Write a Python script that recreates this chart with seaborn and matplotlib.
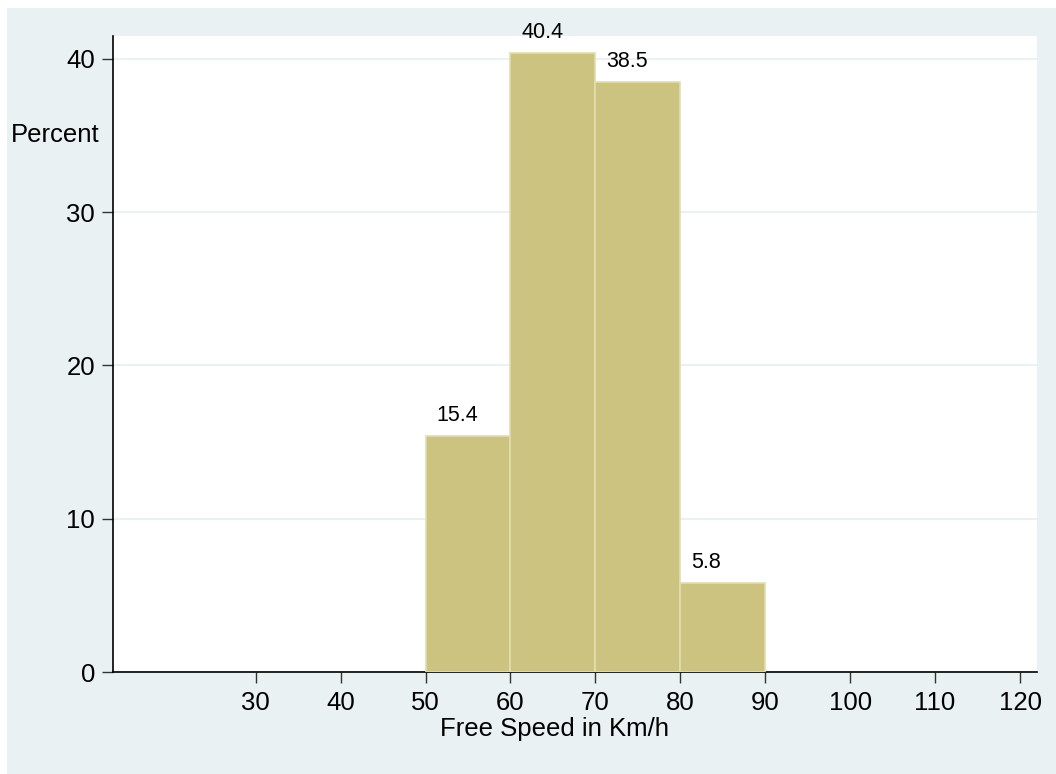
import numpy as np
import seaborn as sns
import matplotlib.pyplot as plt
from matplotlib.patches import Rectangle

# bins of free speed (km/h) and percent of vehicles in each bin
bin_edges = [50, 60, 70, 80, 90]
bin_mids = [55, 65, 75, 85]
percent = [15.4, 40.4, 38.5, 5.8]

x_ticks = [30, 40, 50, 60, 70, 80, 90, 100, 110, 120]
y_ticks = [0, 10, 20, 30, 40]

sns.set_style("white")
plt.rcParams['font.family'] = ['Liberation Sans', 'DejaVu Sans']

bg = "#EAF1F3"
bar_col = "#CBC37F"

fig = plt.figure(figsize=(10.56, 7.74), dpi=100, facecolor="white")
fig.patches.append(Rectangle((7 / 1056, 0), 1, 766 / 774, transform=fig.transFigure,
                             facecolor=bg, edgecolor="none", zorder=-10))
ax = fig.add_axes([113 / 1056, 102 / 774, 924 / 1056, 636 / 774])
ax.set_zorder(5)
ax.set_facecolor("white")

sns.histplot(x=bin_mids, weights=percent, bins=bin_edges, stat="count",
             color=bar_col, alpha=1, edgecolor="#E2DDB0", linewidth=1.2, ax=ax, zorder=3)

for left, p in zip(bin_edges[:-1], percent):
    ax.annotate(f"{p:.1f}", xy=(left + 1.3, p), xytext=(0, 7), textcoords="offset points",
                ha="left", va="bottom", fontsize=15.5, color="black")

ax.set_xlim(13.2, 122)
ax.set_ylim(0, 41.5)
ax.set_xticks(x_ticks)
ax.set_yticks(y_ticks)
ax.yaxis.grid(True, color=bg, linewidth=1.5, zorder=0)
ax.set_axisbelow(True)

for s in ["top", "right"]:
    ax.spines[s].set_visible(False)
for s in ["left", "bottom"]:
    ax.spines[s].set_color("black")
    ax.spines[s].set_linewidth(1.2)

ax.tick_params(axis="both", direction="out", length=8, width=1, color="#333333",
               labelsize=18.5, labelcolor="black", pad=5, bottom=True, left=True)
ax.tick_params(axis="x", pad=6)

ax.set_xlabel("Free Speed in Km/h", fontsize=18.5, color="black")
ax.xaxis.set_label_coords((555 - 113) / 924, -(717 - 672) / 636, transform=ax.transAxes)
ax.set_ylabel("Percent", fontsize=18.5, color="black", rotation=0, ha="center", va="center")
ax.yaxis.set_label_coords(-(113 - 55) / 924, (672 - 135) / 636)

fig.savefig("out.png", dpi=100, facecolor=fig.get_facecolor())
